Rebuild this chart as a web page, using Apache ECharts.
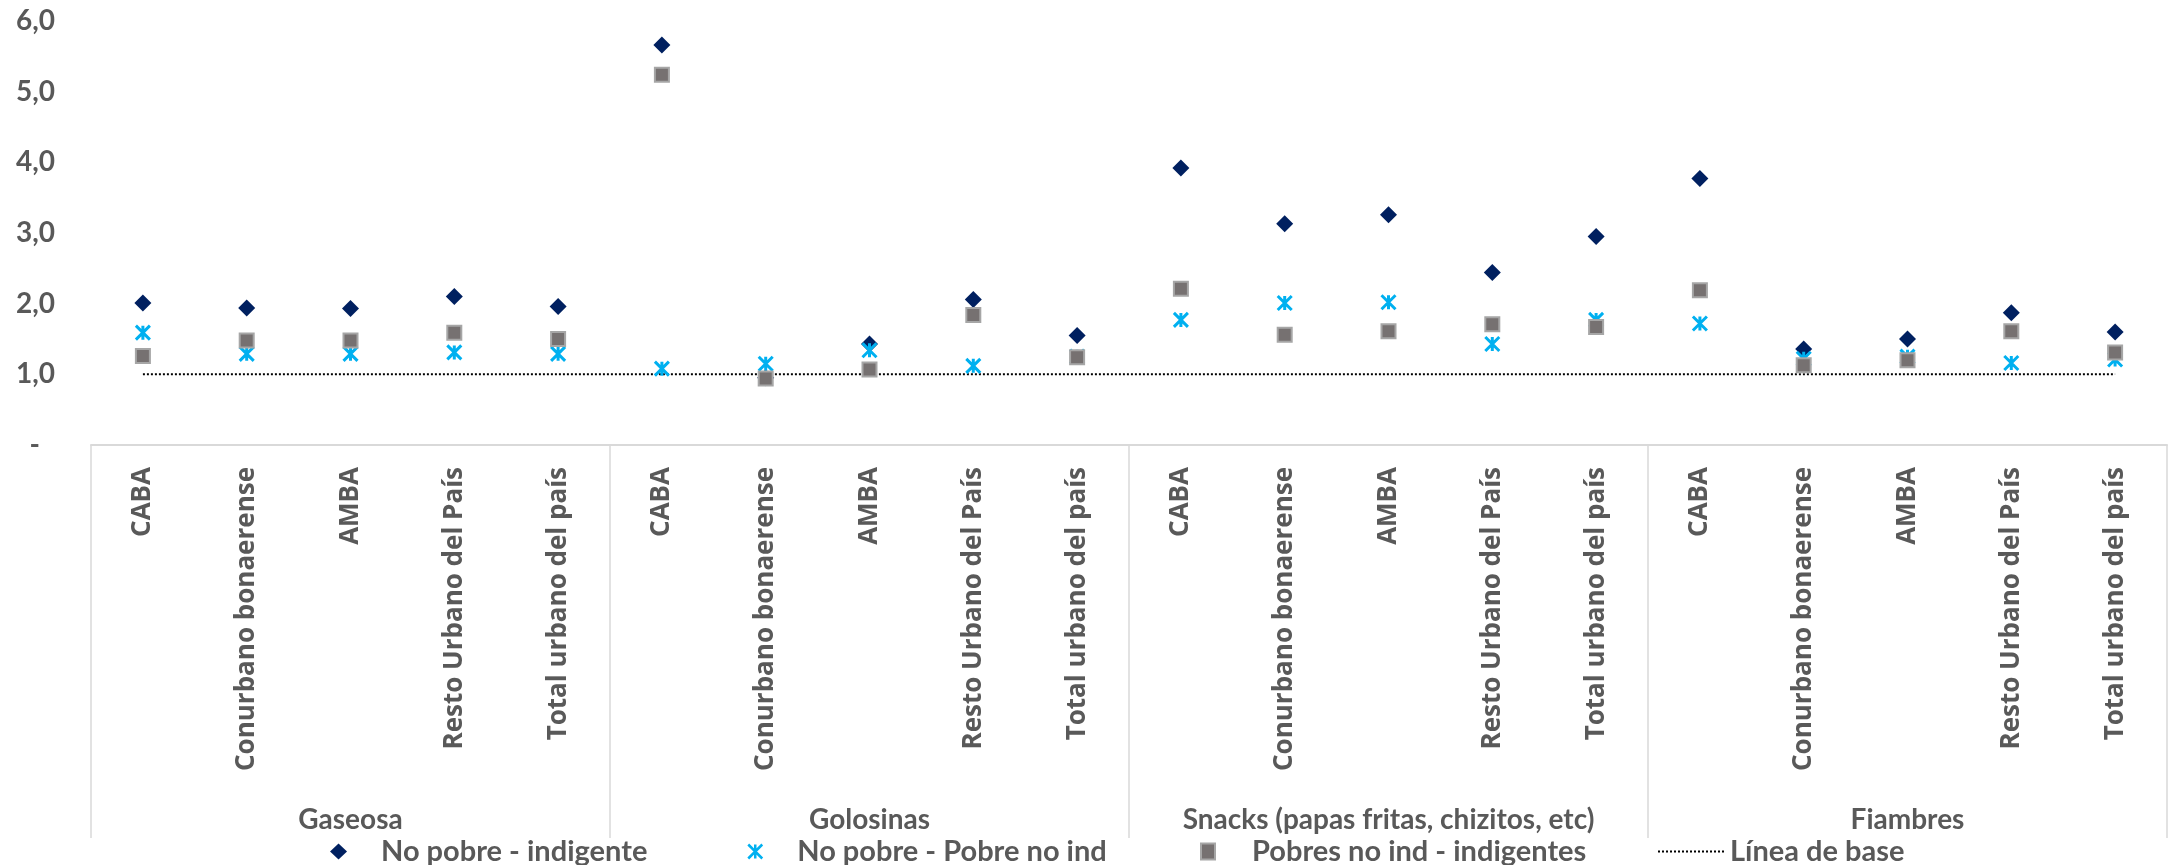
<!DOCTYPE html>
<html>
<head>
<meta charset="utf-8">
<script src="https://cdn.jsdelivr.net/npm/echarts@6/dist/echarts.min.js"></script>
<style>
html,body{margin:0;padding:0;background:#fff;}
#chart{width:2170px;height:865px;}
</style>
</head>
<body>
<div id="chart"></div>
<script>
const groups = ['Gaseosa', 'Golosinas', 'Snacks (papas fritas, chizitos, etc)', 'Fiambres'];
const regions = ['CABA', 'Conurbano bonaerense', 'AMBA', 'Resto Urbano del País', 'Total urbano del país'];
const categories = [].concat(regions, regions, regions, regions);

const seriesNames = ['No pobre - indigente', 'No pobre - Pobre no ind', 'Pobres no ind - indigentes', 'Línea de base'];

const noPobreIndigente = [2.01, 1.94, 1.93, 2.10, 1.96, 5.66, 0.95, 1.43, 2.06, 1.55, 3.92, 3.13, 3.26, 2.44, 2.95, 3.77, 1.36, 1.50, 1.87, 1.60];
const noPobrePobreNoInd = [1.59, 1.29, 1.29, 1.31, 1.29, 1.08, 1.15, 1.34, 1.12, 1.25, 1.77, 2.01, 2.02, 1.43, 1.77, 1.72, 1.22, 1.25, 1.16, 1.21];
const pobresNoIndIndigentes = [1.26, 1.48, 1.48, 1.59, 1.50, 5.24, 0.94, 1.07, 1.84, 1.24, 2.21, 1.56, 1.61, 1.71, 1.67, 2.19, 1.13, 1.20, 1.61, 1.31];
const lineaDeBase = [1, 1, 1, 1, 1, 1, 1, 1, 1, 1, 1, 1, 1, 1, 1, 1, 1, 1, 1, 1];

const yTicks = [0, 1, 2, 3, 4, 5, 6];

const TXT = '#595959';
const asteriskPath = 'path://M0,0 L10,10 M10,0 L0,10 M5,0 L5,10';

const chart = echarts.init(document.getElementById('chart'), null, {renderer: 'canvas'});

function legendFor(name, left, itemWidth, padLeft, extra) {
  return Object.assign({
    data: [name],
    left: left,
    top: 832,
    itemWidth: itemWidth,
    itemHeight: 16,
    selectedMode: false,
    textStyle: {fontFamily: 'Lato', fontWeight: 'bold', fontSize: 29, color: TXT, padding: [0, 0, 0, padLeft]}
  }, extra || {});
}

chart.setOption({
  animation: false,
  backgroundColor: '#fff',
  grid: {left: 91, right: 3, top: 21, bottom: 420, containLabel: false, outerBoundsMode: 'none'},
  legend: [
    legendFor(seriesNames[0], 325, 17, 29, {icon: 'diamond', itemStyle: {color: '#002060', opacity: 1}}),
    legendFor(seriesNames[1], 742, 14, 30, {itemStyle: {color: '#00B0F0', borderColor: '#00B0F0', borderWidth: 2.5, opacity: 1}}),
    legendFor(seriesNames[2], 1195, 14, 32, {icon: 'rect', itemStyle: {color: '#767171', borderColor: '#A6A6A6', borderWidth: 2, opacity: 1}}),
    legendFor(seriesNames[3], 1652, 67, 0, {itemStyle: {color: 'rgba(0,0,0,0)', borderWidth: 0, opacity: 0}})
  ],
  xAxis: [
    {
      type: 'category',
      data: categories,
      position: 'bottom',
      axisLine: {show: true, lineStyle: {color: '#D9D9D9', width: 2}},
      axisTick: {show: false},
      axisLabel: {
        interval: 0, rotate: 90, margin: 22,
        fontFamily: 'Open Sans', fontWeight: 'bold', fontSize: 26, color: TXT
      },
      splitLine: {show: false}
    },
    {
      type: 'category',
      data: groups,
      position: 'bottom',
      axisLine: {show: false},
      axisTick: {show: true, length: 393, inside: false, lineStyle: {color: '#D9D9D9', width: 1.5}},
      axisLabel: {
        interval: 0, margin: 361,
        fontFamily: 'Lato', fontWeight: 'bold', fontSize: 28, color: TXT
      },
      splitLine: {show: false}
    }
  ],
  yAxis: {
    type: 'value',
    min: yTicks[0],
    max: yTicks[yTicks.length - 1],
    interval: 1,
    axisLine: {show: false},
    axisTick: {show: false},
    splitLine: {show: false},
    axisLabel: {
      margin: 36,
      fontFamily: 'Lato', fontWeight: 'bold', fontSize: 28, color: TXT,
      formatter: function (v) {
        return v === 0 ? '{d|-}' : v.toFixed(1).replace('.', ',');
      },
      rich: {d: {fontFamily: 'Lato', fontWeight: 'bold', fontSize: 28, color: TXT, padding: [0, 15, 0, 0]}}
    }
  },
  series: [
    {
      name: seriesNames[0],
      type: 'scatter',
      data: noPobreIndigente,
      symbol: 'diamond',
      symbolSize: 17,
      symbolKeepAspect: true,
      itemStyle: {color: '#002060', opacity: 1},
      z: 3
    },
    {
      name: seriesNames[1],
      type: 'scatter',
      data: noPobrePobreNoInd,
      symbol: asteriskPath,
      symbolSize: 14,
      symbolKeepAspect: true,
      itemStyle: {color: '#00B0F0', borderColor: '#00B0F0', borderWidth: 3, opacity: 1},
      z: 4
    },
    {
      name: seriesNames[2],
      type: 'scatter',
      data: pobresNoIndIndigentes,
      symbol: 'rect',
      symbolSize: 14,
      symbolKeepAspect: true,
      itemStyle: {color: '#767171', borderColor: '#A6A6A6', borderWidth: 2, opacity: 1},
      z: 5
    },
    {
      name: seriesNames[3],
      type: 'line',
      data: lineaDeBase,
      symbol: 'none',
      showSymbol: false,
      itemStyle: {color: 'rgba(0,0,0,0)'},
      lineStyle: {color: '#000000', width: 2, type: 'dotted'},
      z: 2
    }
  ]
});
</script>
</body>
</html>
